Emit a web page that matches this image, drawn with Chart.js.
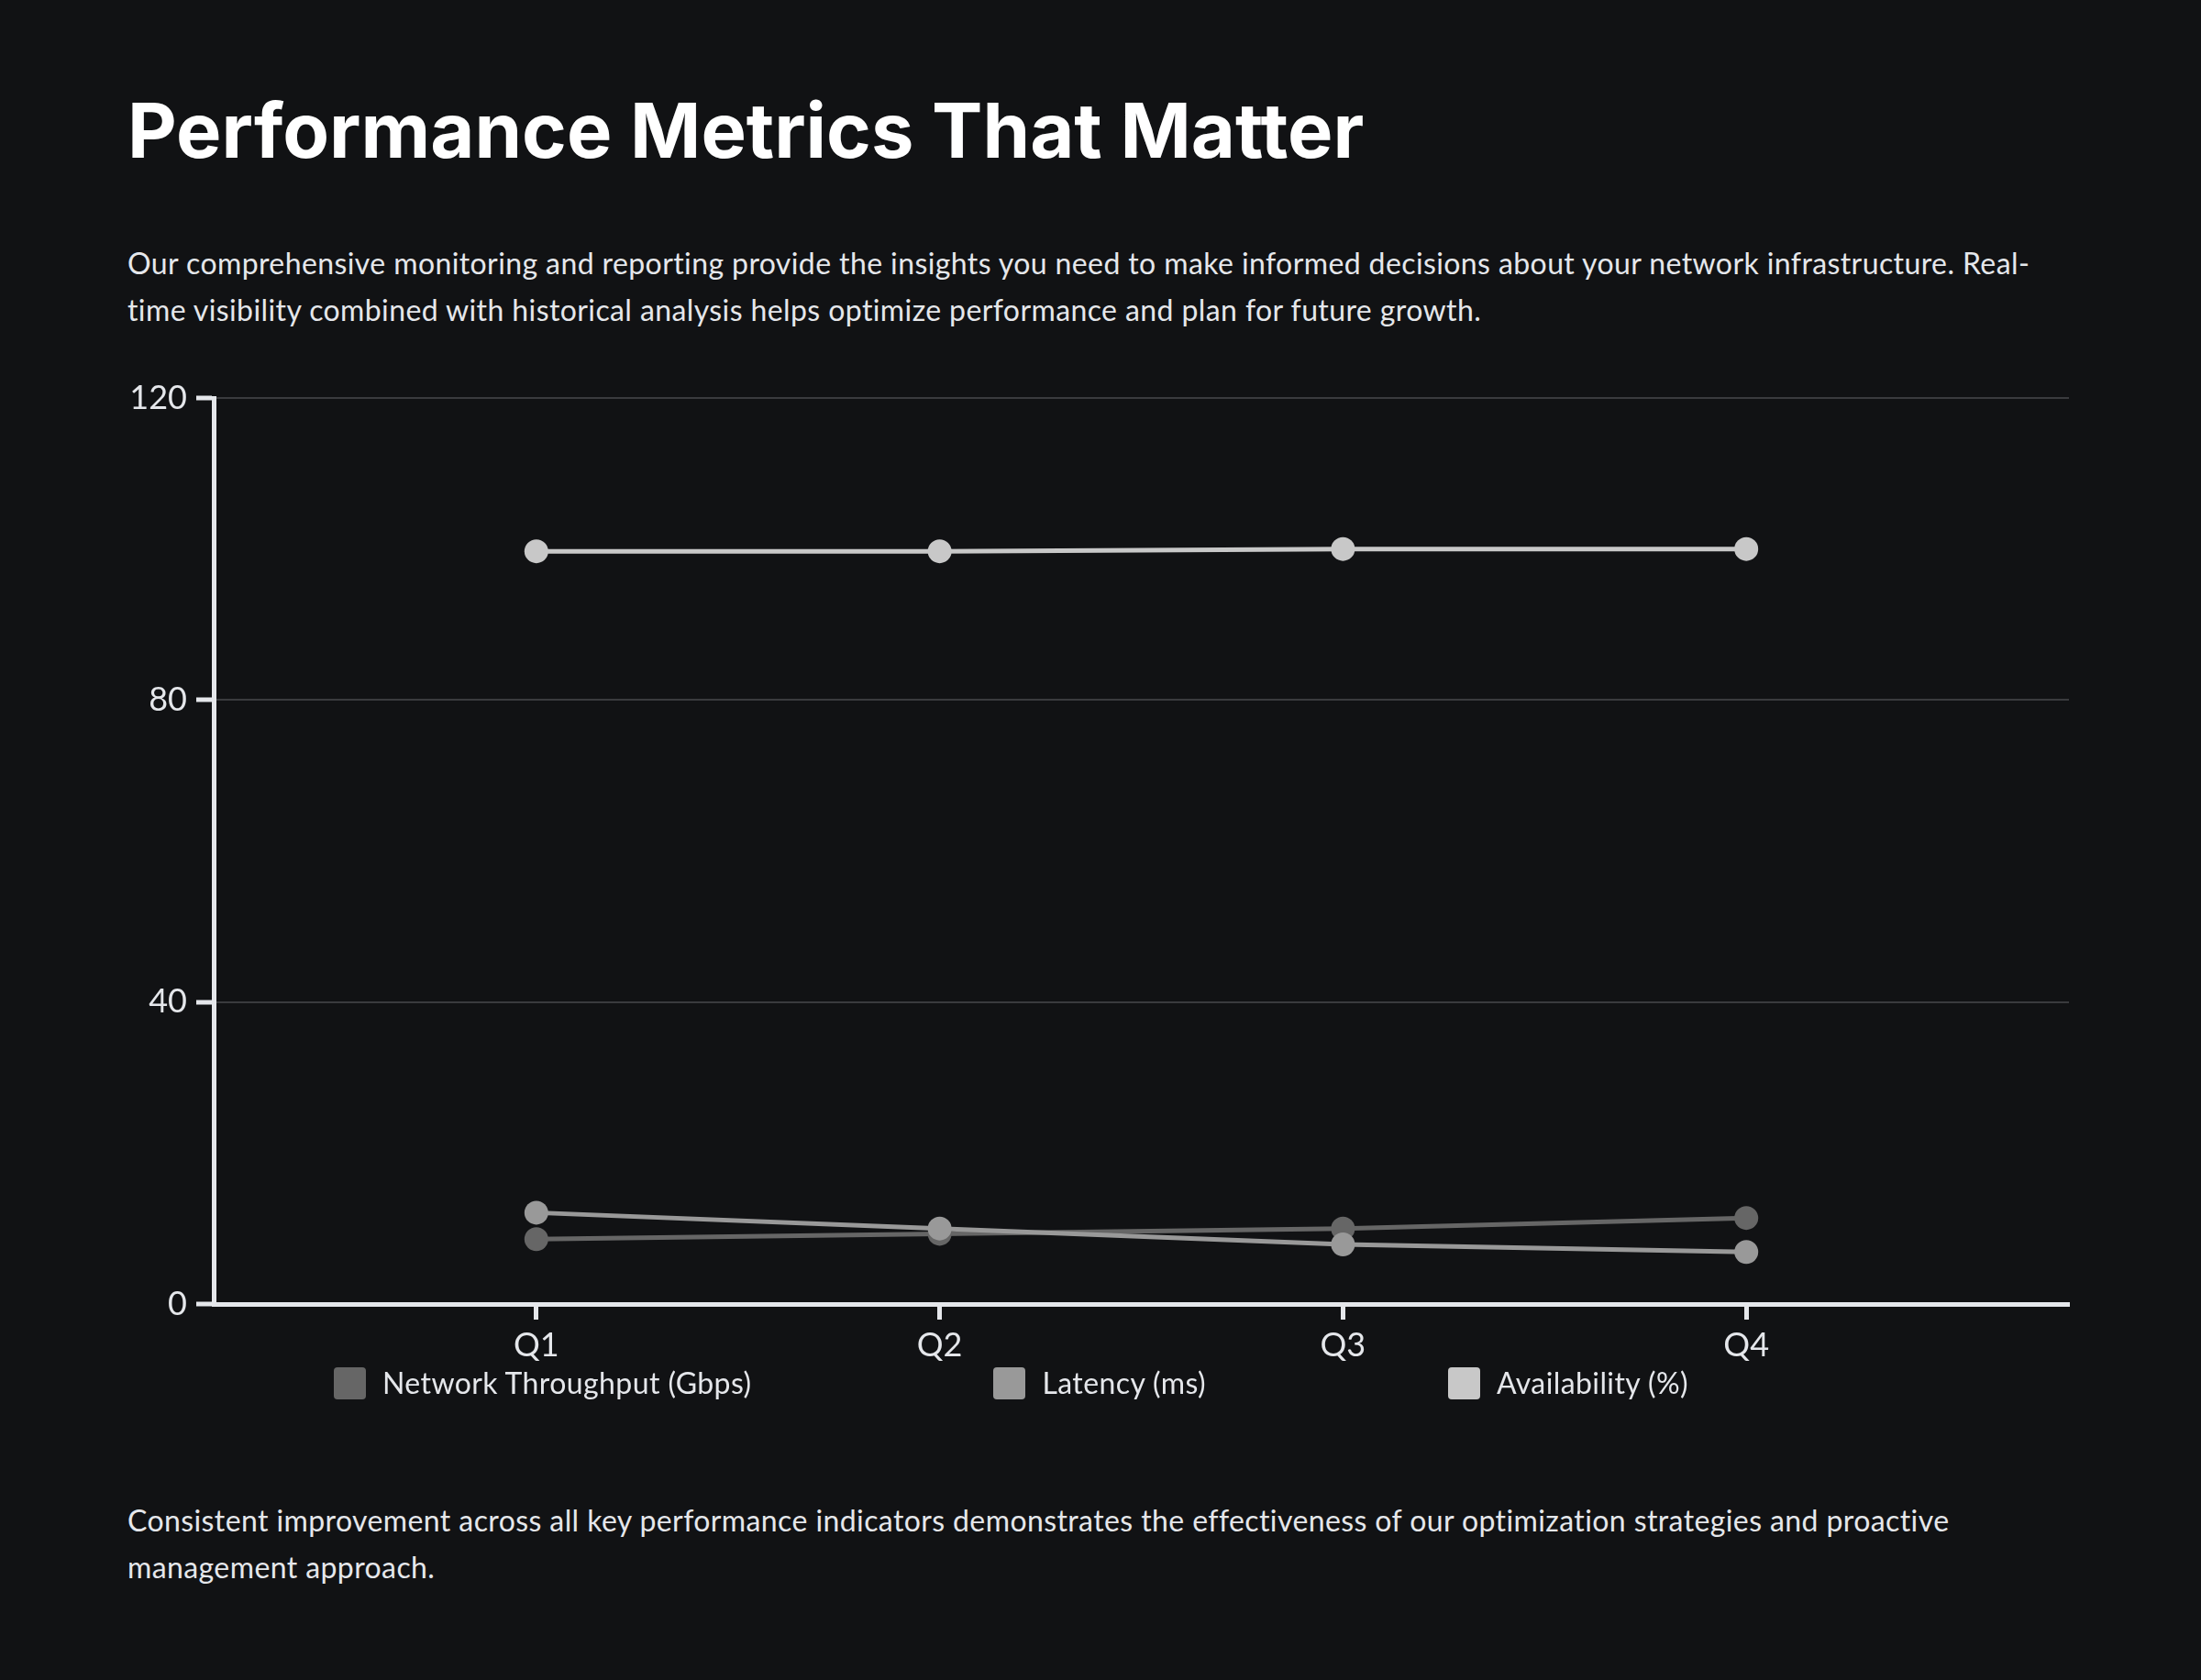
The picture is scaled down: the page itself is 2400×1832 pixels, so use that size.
<!DOCTYPE html>
<html>
<head>
<meta charset="utf-8">
<title>Performance Metrics That Matter</title>
<script src="https://cdn.jsdelivr.net/npm/chart.js@4.4.0/dist/chart.umd.min.js"></script>
<style>
  html, body { margin: 0; background: #111214; }
  body { width: 2400px; height: 1832px; position: relative; overflow: hidden; font-family: Lato, sans-serif; color: #e5e7eb; }
  h1 { position: absolute; left: 139px; top: 101px; margin: 0; font-family: Inter, sans-serif; font-weight: 700; font-size: 83px; line-height: 83px; color: #fff; white-space: nowrap; }
  .lead, .note { position: absolute; left: 139px; margin: 0; font-size: 32px; letter-spacing: 0.4px; line-height: 51px; white-space: nowrap; }
  .lead { top: 261px; }
  .note { top: 1632px; }
  #chartBox { position: absolute; left: 139px; top: 390px; width: 2131px; height: 1100px; }
  #legend { position: absolute; left: 364px; top: 1490px; height: 36px; display: flex; align-items: center; gap: 264px; }
  .item { display: flex; align-items: center; gap: 18px; font-size: 32px; letter-spacing: 0.4px; line-height: 36px; }
  .swatch { width: 35px; height: 35px; border-radius: 4px; }
</style>
</head>
<body>
<h1>Performance Metrics That Matter</h1>
<p class="lead">Our comprehensive monitoring and reporting provide the insights you need to make informed decisions about your network infrastructure. Real-<br>time visibility combined with historical analysis helps optimize performance and plan for future growth.</p>
<div id="chartBox"><canvas id="metricsChart"></canvas></div>
<div id="legend"></div>
<p class="note">Consistent improvement across all key performance indicators demonstrates the effectiveness of our optimization strategies and proactive<br>management approach.</p>
<script>
const categories = ['Q1', 'Q2', 'Q3', 'Q4'];
const throughput = [8.6, 9.3, 10.0, 11.4];
const latency = [12.1, 10.0, 7.9, 6.9];
const availability = [99.7, 99.7, 100, 100];
const yTicks = [0, 40, 80, 120];

const axisColor = '#e5e7eb';
const gridColor = '#3a3b3e';

Chart.defaults.font.family = 'Lato, sans-serif';
Chart.defaults.color = axisColor;

function series(label, values, color, order) {
  return {
    label: label,
    data: values.map((v, i) => ({ x: i + 1, y: v })),
    borderColor: color,
    backgroundColor: color,
    borderWidth: 5,
    pointRadius: 13,
    pointBorderWidth: 0,
    pointHoverRadius: 14,
    tension: 0,
    order: order
  };
}

const ctx = document.getElementById('metricsChart').getContext('2d');
const chart = new Chart(ctx, {
  type: 'line',
  data: {
    datasets: [
      series('Network Throughput (Gbps)', throughput, '#666666', 3),
      series('Latency (ms)', latency, '#999999', 2),
      series('Availability (%)', availability, '#c8c8c8', 1)
    ]
  },
  options: {
    responsive: true,
    maintainAspectRatio: false,
    animation: false,
    layout: { padding: { top: 44, right: 0, bottom: 0, left: 0 } },
    scales: {
      x: {
        type: 'linear',
        min: 0.2,
        max: 4.8,
        afterBuildTicks: axis => { axis.ticks = categories.map((c, i) => ({ value: i + 1 })); },
        afterFit: axis => { axis.height = 68; },
        ticks: {
          padding: 7,
          font: { size: 36 },
          color: axisColor,
          callback: v => categories[v - 1]
        },
        grid: {
          drawOnChartArea: false,
          drawTicks: true,
          tickLength: 17,
          tickWidth: 5,
          tickColor: axisColor
        },
        border: { display: true, color: axisColor, width: 5 }
      },
      y: {
        min: 0,
        max: 120,
        afterBuildTicks: axis => { axis.ticks = yTicks.map(v => ({ value: v })); },
        afterFit: axis => { axis.width = 94; },
        ticks: {
          padding: 10,
          font: { size: 36 },
          color: axisColor
        },
        grid: {
          color: gridColor,
          lineWidth: 2,
          tickLength: 19,
          tickWidth: 5,
          tickColor: axisColor
        },
        border: { display: true, color: axisColor, width: 5 }
      }
    },
    plugins: {
      legend: { display: false },
      tooltip: {
        callbacks: {
          title: items => categories[items[0].parsed.x - 1],
          label: item => `${item.dataset.label}: ${item.parsed.y}`
        }
      }
    }
  }
});

// html legend built from the datasets
const legend = document.getElementById('legend');
chart.data.datasets.forEach(ds => {
  const item = document.createElement('div');
  item.className = 'item';
  const sw = document.createElement('span');
  sw.className = 'swatch';
  sw.style.background = ds.backgroundColor;
  const txt = document.createElement('span');
  txt.textContent = ds.label;
  item.appendChild(sw);
  item.appendChild(txt);
  legend.appendChild(item);
});
</script>
</body>
</html>
